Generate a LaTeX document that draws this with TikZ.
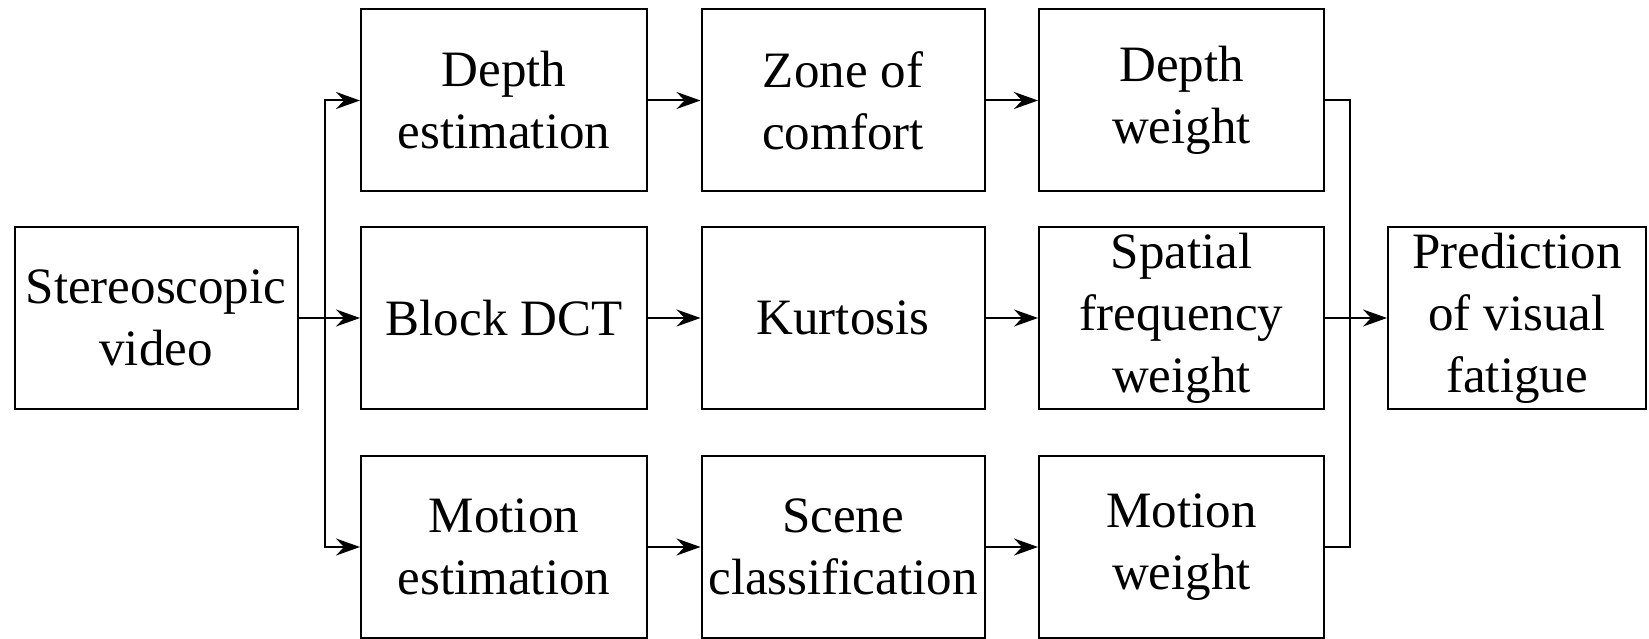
\documentclass[tikz,border=0pt]{standalone}
\usepackage{fontspec}
\setmainfont{Liberation Serif}
\newfontfamily\tnrfont{Liberation Serif}
\usetikzlibrary{arrows.meta}
\begin{document}
\begin{tikzpicture}[x=1pt,y=-1pt,
  box/.style={draw,line width=2pt,rectangle,inner sep=0pt,minimum height=182pt,align=center,
    font=\tnrfont\fontsize{51}{62}\selectfont},
  conn/.style={line width=2pt},
  arr/.style={line width=2pt,-{Stealth[length=24pt,width=17pt,inset=8pt]}}]
\useasboundingbox (0,0) rectangle (1649,639);
\node[box,minimum width=283pt] (stereo) at (156,318) {Stereoscopic\\video};
\node[box,minimum width=286pt] (dep) at (504,100.5) {Depth\\estimation};
\node[box,minimum width=286pt] (dct) at (504,318) {Block DCT};
\node[box,minimum width=286pt] (mot) at (504,547) {Motion\\estimation};
\node[box,minimum width=283pt] (zone) at (843,100.5) {Zone of\\comfort};
\node[box,minimum width=283pt] (kurt) at (843,318) {Kurtosis};
\node[box,minimum width=283pt] (scene) at (843,547) {Scene\\classification};
\node[box,minimum width=285pt] (dw) at (1181.5,100.5) {Depth\\weight};
\node[box,minimum width=285pt] (sfw) at (1181.5,318) {Spatial\\frequency\\weight};
\node[box,minimum width=285pt] (mw) at (1181.5,547) {Motion\\weight};
\node[box,minimum width=258pt] (pred) at (1517,318) {Prediction\\of visual\\fatigue};
\coordinate (split) at (325,318);
\coordinate (mrg) at (1350,318);
\draw[conn] (stereo.east) -- (split);
\draw[arr] (split) |- (dep.west);
\draw[arr] (split) -- (dct.west);
\draw[arr] (split) |- (mot.west);
\draw[arr] (dep.east) -- (zone.west);
\draw[arr] (dct.east) -- (kurt.west);
\draw[arr] (mot.east) -- (scene.west);
\draw[arr] (zone.east) -- (dw.west);
\draw[arr] (kurt.east) -- (sfw.west);
\draw[arr] (scene.east) -- (mw.west);
\draw[conn] (dw.east) -| (mrg);
\draw[conn] (mw.east) -| (mrg);
\draw[arr] (sfw.east) -- (pred.west);
\end{tikzpicture}
\end{document}
